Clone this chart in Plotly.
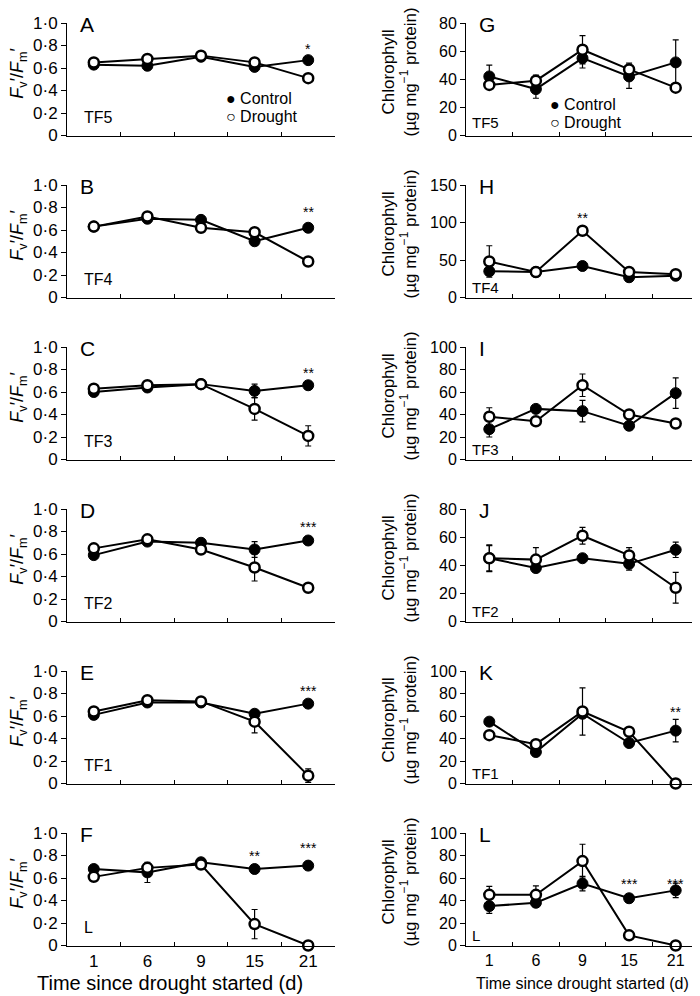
import plotly.graph_objects as go
from plotly.subplots import make_subplots

# ---------------- data ----------------
days = ["1", "6", "9", "15", "21"]
line_labels = ["TF5", "TF4", "TF3", "TF2", "TF1", "L"]
fv_letters = ["A", "B", "C", "D", "E", "F"]
chl_letters = ["G", "H", "I", "J", "K", "L"]

fv_control = [
    [0.63, 0.62, 0.70, 0.61, 0.67],
    [0.63, 0.70, 0.69, 0.50, 0.62],
    [0.60, 0.64, 0.67, 0.61, 0.66],
    [0.59, 0.71, 0.70, 0.64, 0.72],
    [0.61, 0.72, 0.72, 0.62, 0.71],
    [0.68, 0.65, 0.74, 0.68, 0.71],
]
fv_control_err = [
    [0.02, 0.02, 0.02, 0.02, 0.02],
    [0.02, 0.02, 0.02, 0.02, 0.02],
    [0.02, 0.02, 0.02, 0.06, 0.02],
    [0.02, 0.02, 0.02, 0.07, 0.02],
    [0.04, 0.02, 0.02, 0.03, 0.02],
    [0.02, 0.09, 0.02, 0.02, 0.02],
]
fv_drought = [
    [0.65, 0.68, 0.71, 0.65, 0.51],
    [0.63, 0.72, 0.62, 0.58, 0.32],
    [0.63, 0.66, 0.67, 0.45, 0.21],
    [0.65, 0.73, 0.64, 0.48, 0.30],
    [0.64, 0.74, 0.73, 0.55, 0.07],
    [0.61, 0.69, 0.72, 0.19, 0.00],
]
fv_drought_err = [
    [0.02, 0.02, 0.02, 0.02, 0.02],
    [0.02, 0.02, 0.03, 0.02, 0.02],
    [0.02, 0.02, 0.02, 0.10, 0.09],
    [0.02, 0.02, 0.04, 0.12, 0.02],
    [0.02, 0.02, 0.02, 0.10, 0.06],
    [0.02, 0.03, 0.02, 0.13, 0.00],
]
fv_ticks = [0, 0.2, 0.4, 0.6, 0.8, 1.0]
fv_ticktext = ["0", "0·2", "0·4", "0·6", "0·8", "1·0"]
fv_stars = [
    [("21", 0.80, "*")],
    [("21", 0.79, "**")],
    [("21", 0.80, "**")],
    [("21", 0.87, "***")],
    [("21", 0.85, "***")],
    [("15", 0.82, "**"), ("21", 0.89, "***")],
]

chl_max = [80, 150, 100, 80, 100, 100]
chl_ticks = [
    [0, 20, 40, 60, 80],
    [0, 50, 100, 150],
    [0, 20, 40, 60, 80, 100],
    [0, 20, 40, 60, 80],
    [0, 20, 40, 60, 80, 100],
    [0, 20, 40, 60, 80, 100],
]
chl_control = [
    [42, 33, 55, 42, 52],
    [35, 34, 42, 27, 29],
    [27, 45, 43, 30, 59],
    [45, 38, 45, 41, 51],
    [55, 28, 62, 36, 47],
    [35, 38, 55, 42, 49],
]
chl_control_err = [
    [8, 6.5, 7, 8.5, 16],
    [4, 2, 3, 2, 2],
    [7, 2, 9.5, 2, 13.5],
    [9, 2, 2, 4.5, 5.5],
    [3, 2, 2, 2, 10],
    [6.5, 2, 6.5, 2, 6.5],
]
chl_drought = [
    [36, 39, 61, 47, 34],
    [48, 34, 89, 34, 31],
    [38, 34, 66, 40, 32],
    [45, 44, 61, 47, 24],
    [43, 35, 64, 46, 0],
    [45, 45, 75, 9, 0],
]
chl_drought_err = [
    [2, 4, 10, 4.5, 2],
    [21, 2, 3, 2, 2],
    [8, 2, 10, 4, 2],
    [9.5, 8.5, 6, 5.5, 11],
    [2, 2, 21, 2, 0],
    [7.5, 8, 15, 1, 0],
]
chl_stars = [
    [],
    [("9", 110, "**")],
    [],
    [],
    [("21", 66, "**")],
    [("15", 57, "***"), ("21", 57, "***")],
]

# ---------------- layout geometry ----------------
# The page body has an 8px default margin, so the figure is made 8px smaller
# and every reference pixel position is shifted by that offset.
OFF = 8
W, H = 700 - OFF, 996 - OFF
FONT = "Liberation Sans, Arial, sans-serif"
tops = [23, 185, 347, 509, 671, 833]
ph = 112.5
left_x = (67, 335)
right_x = (466, 699)

fig = make_subplots(rows=6, cols=2)

def fx(p):
    return (p - OFF) / W

def fy(p):
    return 1 - (p - OFF) / H

def px_dom_x(a, b):
    return [fx(a), fx(b)]

def px_dom_y(t):
    return [fy(t + ph), fy(t)]

ctrl_style = dict(color="black", size=11, line=dict(color="black", width=1))
dr_style = dict(color="white", size=10, line=dict(color="black", width=2.5))
line_style = dict(color="black", width=2)

annotations = []

for i in range(6):
    for col in (1, 2):
        n = i * 2 + col
        if col == 1:
            c, ce, d, de = fv_control[i], fv_control_err[i], fv_drought[i], fv_drought_err[i]
        else:
            c, ce, d, de = chl_control[i], chl_control_err[i], chl_drought[i], chl_drought_err[i]
        for vals, errs, mk in ((c, ce, ctrl_style), (d, de, dr_style)):
            fig.add_trace(go.Scatter(
                x=days, y=vals, mode="lines+markers",
                line=line_style, marker=mk,
                error_y=dict(type="data", array=errs, visible=True,
                             color="black", thickness=1.2, width=3),
                cliponaxis=False, showlegend=False,
            ), row=i + 1, col=col)

        xs = "" if n == 1 else str(n)
        xdom = px_dom_x(*left_x) if col == 1 else px_dom_x(*right_x)
        fig.layout["xaxis" + xs].update(
            domain=xdom, type="category", categoryorder="array",
            categoryarray=days, range=[-0.5, 4.5], tickson="boundaries",
            ticks="inside", ticklen=4, tickcolor="black", tickwidth=1,
            showline=True, linecolor="black", linewidth=1,
            showgrid=False, zeroline=False, automargin=False,
            showticklabels=(i == 5),
            tickfont=dict(family=FONT, size=17 if col == 1 else 16, color="black"),
        )
        if col == 1:
            yt, ytt, ymax = fv_ticks, fv_ticktext, 1.0
        else:
            yt = chl_ticks[i]
            ytt = [str(v) for v in yt]
            ymax = chl_max[i]
        fig.layout["yaxis" + xs].update(
            domain=px_dom_y(tops[i]), range=[0, ymax],
            tickvals=yt, ticktext=ytt, ticks="outside", ticklen=5,
            tickcolor="black", tickwidth=1,
            showline=True, linecolor="black", linewidth=1,
            showgrid=False, zeroline=False, automargin=False,
            tickfont=dict(family=FONT, size=17 if col == 1 else 16, color="black"),
        )

        xr = "x" + xs
        yr = "y" + xs
        wpx = (xdom[1] - xdom[0]) * W
        # panel letter
        letter = fv_letters[i] if col == 1 else chl_letters[i]
        annotations.append(dict(
            text=letter, xref=xr + " domain", yref=yr + " domain",
            x=11 / wpx, y=1.0, xanchor="left", yanchor="middle",
            yshift=-1, showarrow=False,
            font=dict(family=FONT, size=21, color="black")))
        # line label
        lbl_shift = 18 if col == 1 else (13 if i == 0 else 10)
        annotations.append(dict(
            text=line_labels[i], xref=xr + " domain", yref=yr + " domain",
            x=(15 if col == 1 else 4) / wpx, y=0,
            xanchor="left", yanchor="middle", yshift=lbl_shift, showarrow=False,
            font=dict(family=FONT, size=16 if col == 1 else 15, color="black")))
        # stars
        stars = fv_stars[i] if col == 1 else chl_stars[i]
        for sx, sy, st in stars:
            annotations.append(dict(
                text=st, x=days.index(sx), y=sy, xref=xr, yref=yr, showarrow=False,
                xanchor="center", yanchor="middle", yshift=-3,
                font=dict(family=FONT, size=14, color="black")))
        # y titles
        if col == 1:
            annotations.append(dict(
                text="<i>F</i><sub>v</sub>′/<i>F</i><sub>m</sub>′",
                xref="paper", yref=yr + " domain", x=fx(19), y=0.55,
                xanchor="center", yanchor="middle", textangle=-90, showarrow=False,
                borderpad=0, font=dict(family=FONT, size=18, color="black")))
        else:
            annotations.append(dict(
                text="Chlorophyll<br>(µg mg<sup>−1</sup> protein)",
                xref="paper", yref=yr + " domain", x=fx(399), y=0.56,
                xanchor="center", yanchor="middle", textangle=-90, showarrow=False,
                font=dict(family=FONT, size=17, color="black")))

# legends (A and G)
leg = [(230, 99, 117), (554, 105, 123)]
for lx, y1, y2 in leg:
    for sym, txt, yy in (("●", "Control", y1), ("○", "Drought", y2)):
        annotations.append(dict(
            text=sym + " " + txt, xref="paper", yref="paper",
            x=fx(lx - 6), y=fy(yy), xanchor="left", yanchor="middle",
            showarrow=False, font=dict(family=FONT, size=16, color="black")))

# x titles
annotations.append(dict(text="Time since drought started (d)", xref="paper", yref="paper",
                        x=fx(170), y=fy(983), xanchor="center", yanchor="middle",
                        showarrow=False, font=dict(family=FONT, size=20, color="black")))
annotations.append(dict(text="Time since drought started (d)", xref="paper", yref="paper",
                        x=fx(582), y=fy(983), xanchor="center", yanchor="middle",
                        showarrow=False, font=dict(family=FONT, size=16, color="black")))

fig.update_layout(
    template="none",
    width=W, height=H, margin=dict(l=0, r=0, t=0, b=0),
    paper_bgcolor="white", plot_bgcolor="white",
    annotations=annotations, showlegend=False,
    font=dict(family=FONT, color="black"),
)

fig.write_html("out.html")
